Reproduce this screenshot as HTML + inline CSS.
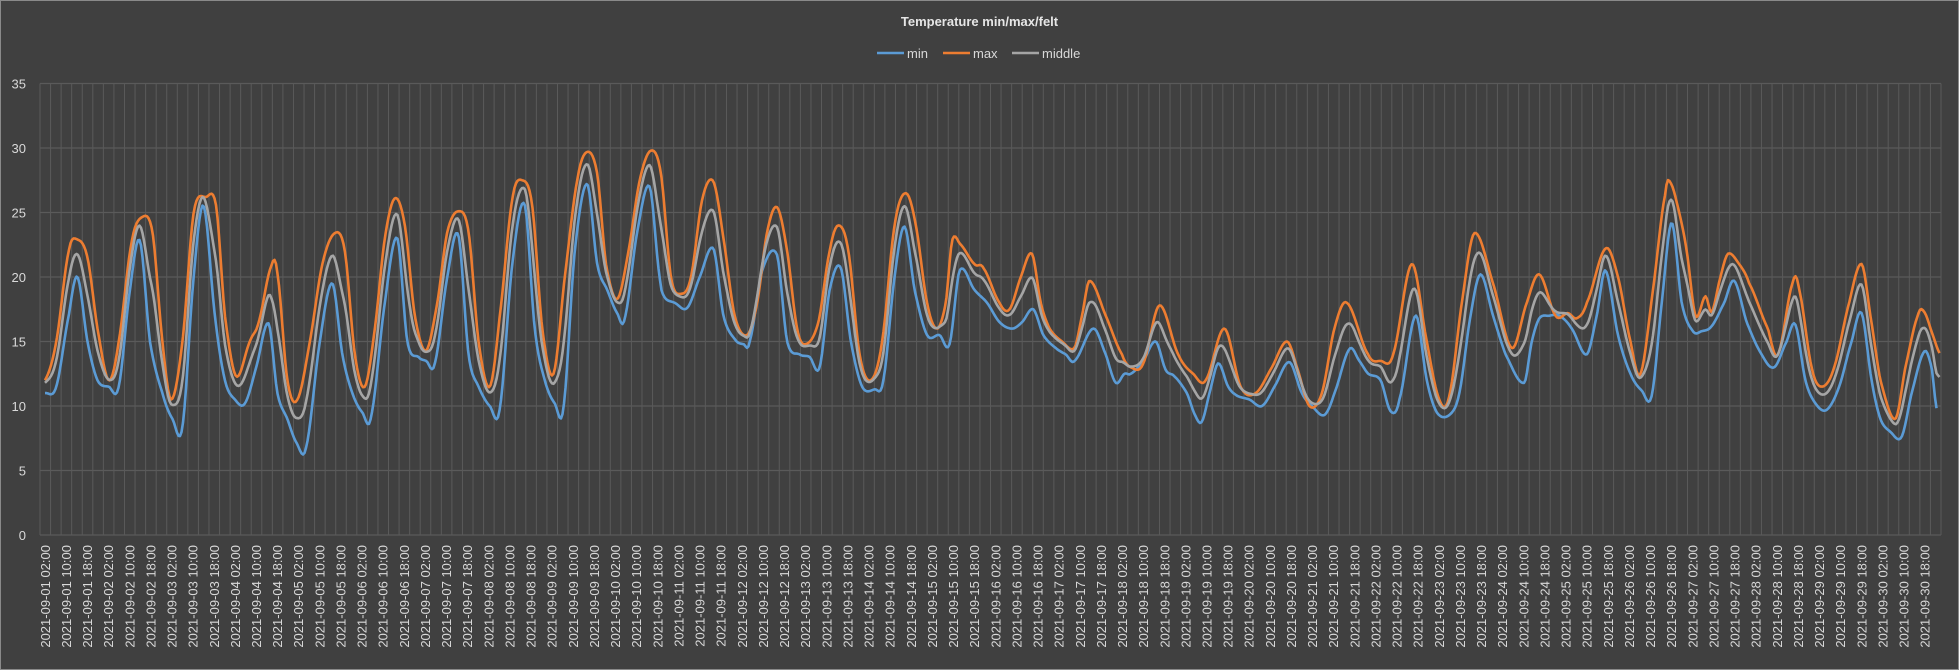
<!DOCTYPE html>
<html><head><meta charset="utf-8"><style>
html,body{margin:0;padding:0;background:#404040;}
svg{display:block;}
text{font-family:"Liberation Sans",sans-serif;}
</style></head><body>
<svg id="s" width="1959" height="670" xmlns="http://www.w3.org/2000/svg">
<rect x="0.5" y="0.5" width="1958" height="669" fill="#404040" stroke="#8a8a8a"/>
<text x="979.5" y="26" text-anchor="middle" font-size="13" font-weight="bold" fill="#e6e6e6">Temperature min/max/felt</text>
<line x1="877" y1="53" x2="904" y2="53" stroke="#5b9bd5" stroke-width="2.5"/>
<text x="907" y="58" font-size="13" fill="#d9d9d9">min</text>
<line x1="943" y1="53" x2="970" y2="53" stroke="#ed7d31" stroke-width="2.5"/>
<text x="973" y="58" font-size="13" fill="#d9d9d9">max</text>
<line x1="1012" y1="53" x2="1039" y2="53" stroke="#a5a5a5" stroke-width="2.5"/>
<text x="1042" y="58" font-size="13" fill="#d9d9d9">middle</text>
<g id="grid"></g>
<g id="lab"></g>
<g id="ser" fill="none" stroke-width="2.6" stroke-linejoin="round"></g>
</svg>
<script>
const NS="http://www.w3.org/2000/svg";
const L=40,R=1941,T=83.5,B=535,N=180,cw=(R-L)/N,k=(B-T)/35;
const g=document.getElementById('grid'),lab=document.getElementById('lab'),ser=document.getElementById('ser');
function el(p,tag,a,txt){const e=document.createElementNS(NS,tag);for(const q in a)e.setAttribute(q,a[q]);if(txt!=null)e.textContent=txt;p.appendChild(e);return e;}
for(let i=0;i<=N;i++){const x=L+i*cw;el(g,'line',{x1:x,y1:T,x2:x,y2:B,stroke:'#5a5a5a','stroke-width':1});}
for(let v=0;v<=35;v+=5){const y=B-v*k;el(g,'line',{x1:L,y1:y,x2:R,y2:y,stroke:'#5a5a5a','stroke-width':1.3});
el(lab,'text',{x:26,y:y+5,'text-anchor':'end','font-size':13,fill:'#d9d9d9'},String(v));}
const hrs=['02:00','10:00','18:00'];
for(let i=0;i<90;i++){const d=Math.floor(i/3)+1;const s='2021-09-'+String(d).padStart(2,'0')+' '+hrs[i%3];
const x=L+(2*i+0.5)*cw+4.5;el(lab,'text',{x:x,y:545,'text-anchor':'end','font-size':13,fill:'#d9d9d9',transform:`rotate(-90 ${x} 545)`},s);}
const mx=[[36,12],[45,15],[55,22],[62,22.9],[70,21.5],[78,16],[87,12],[95,15],[105,22.5],[113,24.6],[122,23.5],[130,15],[137,10.5],[146,15],[155,25],[165,26.2],[173,25.5],[180,17],[189,12.3],[200,15],[207,16.5],[217,20.8],[222,20.3],[230,12],[238,10.5],[248,15],[258,21],[268,23.4],[276,22],[284,14],[292,11.5],[300,16],[308,23],[316,26.1],[324,24],[332,17],[341,14.3],[350,18],[358,23.5],[367,25.1],[375,23.5],[383,15],[392,11.5],[400,17],[410,26],[418,27.5],[426,25.5],[434,16],[443,12.5],[452,20],[462,27.5],[470,29.7],[478,28],[485,21],[494,18.3],[503,22],[512,27.5],[521,29.8],[529,28],[537,20],[545,18.7],[553,20],[562,26],[571,27.4],[579,23],[588,17],[598,15.5],[606,18],[614,23.5],[622,25.4],[630,22],[638,16],[645,14.8],[655,16.5],[664,22],[671,24],[679,22],[688,14],[697,12],[706,15],[716,24],[725,26.5],[733,24],[742,18],[750,16],[757,18],[762,22.8],[768,22.6],[780,21],[787,20.7],[800,18],[808,17.5],[817,20],[826,21.8],[833,18],[840,16],[850,15],[860,14.5],[866,17],[872,19.7],[885,17],[898,14],[905,13],[915,13.3],[928,17.8],[943,14],[955,12.5],[965,12],[980,16],[993,11.5],[1005,11],[1018,13],[1030,15],[1038,13],[1048,10],[1058,11],[1068,16],[1078,18],[1095,14],[1105,13.5],[1115,14],[1130,21],[1142,15],[1152,10.5],[1160,10.8],[1170,18],[1180,23.4],[1195,19.5],[1210,14.5],[1222,18],[1232,20.2],[1245,17],[1255,17.2],[1262,16.8],[1270,18],[1285,22.2],[1295,20],[1305,15],[1313,12.5],[1323,19],[1333,26.5],[1337,27.3],[1344,25],[1350,22],[1357,17],[1365,18.5],[1370,17.3],[1377,20],[1383,21.8],[1392,21],[1400,19.5],[1415,16],[1423,14],[1435,19.6],[1440,19],[1450,13],[1458,11.5],[1468,13],[1480,18],[1490,21],[1497,17],[1505,12],[1517,9],[1525,13],[1535,17],[1540,17.3],[1547,15.5],[1553,14]];
const mn=[[36,11],[45,11.5],[55,17],[62,20],[70,15],[78,12],[87,11.5],[95,11.5],[104,19],[112,22.8],[120,15],[130,11],[138,9],[146,8.4],[155,20],[163,25.5],[172,17],[180,12],[188,10.5],[196,10.2],[205,13],[215,16.4],[222,11],[230,9],[237,7.2],[245,6.8],[256,15],[266,19.5],[274,14],[282,11],[290,9.5],[297,9.2],[308,18],[318,23],[326,15],[335,13.8],[341,13.5],[348,13.3],[358,20],[367,23.2],[375,14],[383,11.5],[392,10],[400,9.8],[410,21],[420,25.6],[428,16],[436,12],[444,10.2],[451,9.9],[460,22],[470,27.2],[478,21],[486,19],[494,17.2],[500,16.8],[510,23.5],[520,27],[528,20],[532,18.4],[540,18],[550,17.6],[560,20],[571,22.2],[579,17],[588,15.2],[595,14.8],[600,15],[610,20.5],[622,21.7],[630,15],[640,14],[648,13.8],[656,13],[664,19],[673,20.7],[681,15],[690,11.5],[700,11.3],[707,12],[716,20],[724,23.9],[732,19],[742,15.5],[752,15.5],[760,14.8],[768,20.5],[780,19],[790,18],[800,16.5],[810,16],[818,16.5],[827,17.5],[835,15.5],[845,14.5],[853,14],[860,13.5],[875,16],[885,14],[893,11.8],[900,12.5],[905,12.5],[915,13.5],[925,15],[933,12.8],[940,12.3],[950,11],[957,9.2],[962,8.8],[968,11],[975,13.3],[983,11.5],[990,10.8],[1000,10.5],[1010,10],[1020,11.5],[1032,13.4],[1042,11],[1050,10],[1060,9.3],[1068,11],[1080,14.4],[1088,13.5],[1095,12.5],[1105,12],[1113,9.6],[1120,10.5],[1133,17],[1142,12],[1150,9.5],[1160,9.3],[1168,11],[1177,17],[1185,20.2],[1195,17],[1205,14],[1220,11.8],[1226,15],[1232,16.8],[1240,17],[1248,17],[1258,16],[1270,14],[1278,17],[1285,20.5],[1295,15.5],[1305,12.5],[1314,11.2],[1322,10.8],[1330,18],[1338,24.2],[1346,18],[1355,15.8],[1362,15.8],[1370,16.2],[1380,18],[1388,19.7],[1398,16.5],[1410,14],[1420,13],[1430,15],[1437,16.3],[1445,12],[1453,10.2],[1462,9.7],[1472,11.5],[1482,15],[1490,17.2],[1498,12],[1505,9],[1513,8],[1522,7.6],[1530,11],[1540,14.2],[1546,13],[1550,9.8]];
function spline(pts){const X=pts.map(p=>p[0]*1.2494),Y=pts.map(p=>p[1]);
return function(x){let i=0;while(i<X.length-2&&x>X[i+1])i++;
const x0=X[i],x1=X[i+1];let t=(x-x0)/(x1-x0);t=Math.max(0,Math.min(1,t));
const p0=Y[Math.max(0,i-1)],p1=Y[i],p2=Y[i+1],p3=Y[Math.min(Y.length-1,i+2)];
const t2=t*t,t3=t2*t;return 0.5*((2*p1)+(-p0+p2)*t+(2*p0-5*p1+4*p2-p3)*t2+(-p0+3*p1-3*p2+p3)*t3);};}
const fmx=spline(mx),fmn=spline(mn);
const x0=36*1.2494,x1=1553*1.2494;
function path(f,c,xe){let d='';for(let x=x0;x<=xe;x+=1.5){d+=(d?'L':'M')+x.toFixed(1)+','+(B-f(x)*k).toFixed(1);}el(ser,'path',{d:d,stroke:c});}
path(fmn,'#5b9bd5',1550*1.2494);
path(fmx,'#ed7d31',x1);
path(x=>{const a=fmn(x),b=fmx(x);return (a+b)/2+0.3;},'#a5a5a5',x1);
</script>
</body></html>
